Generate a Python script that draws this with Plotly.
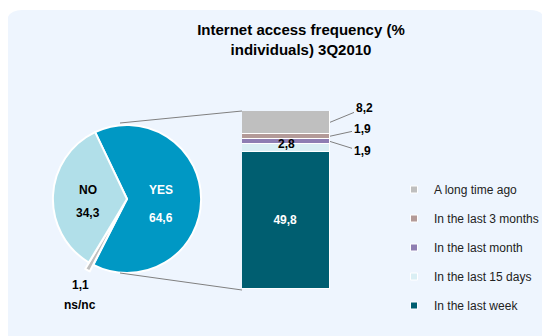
import plotly.graph_objects as go

# page body has an 8px margin: figure is drawn at (8,8) in the 550x336 window
OFF = 8
W, H = 550 - OFF, 336 - OFF

# ---- data ----
pie_labels = ["YES", "ns/nc", "NO"]
pie_values = [64.6, 1.1, 34.3]
pie_colors = ["#0098C4", "#BFBFBF", "#B1DFE9"]

bar_cats = ["In the last week", "In the last 15 days", "In the last month",
            "In the last 3 months", "A long time ago"]
bar_values = [49.8, 2.8, 1.9, 1.9, 8.2]
bar_colors = ["#005E70", "#DAEFF4", "#8E7EB2", "#B39A98", "#BFBFBF"]

title_text = "Internet access frequency (%<br>individuals) 3Q2010"

FONT = "Liberation Sans, Arial, sans-serif"


def px_x(x):
    return (x - OFF) / W


def px_y(y):
    return 1 - (y - OFF) / H


def fmt(v):
    return f"{v:.1f}".replace(".", ",")


fig = go.Figure()

# pie
fig.add_trace(go.Pie(
    labels=pie_labels, values=pie_values, sort=False, direction="clockwise",
    rotation=-25.5, pull=[0, 0.1, 0],
    marker=dict(colors=pie_colors, line=dict(color="white", width=2)),
    textinfo="none",
    showlegend=False, hoverinfo="skip",
    domain=dict(x=[px_x(45.5), px_x(208.5)], y=[px_y(280.5), px_y(117.5)]),
))

# stacked bar
for cat, val, col in zip(bar_cats, bar_values, bar_colors):
    fig.add_trace(go.Bar(
        x=[0], y=[val], name=cat, marker=dict(color=col, line=dict(color="white", width=1.5)),
        showlegend=False, hoverinfo="skip",
        text=["<b>%s</b>" % fmt(val)] if cat == "In the last week" else None,
        textposition="inside", insidetextanchor="middle",
        textfont=dict(family=FONT, size=12, color="white"),
    ))

# legend entries (square markers)
for cat, col in list(zip(bar_cats, bar_colors))[::-1]:
    fig.add_trace(go.Scatter(
        x=[None], y=[None], mode="markers", name=cat, legendgroup=cat,
        marker=dict(symbol="square", size=7, color=col, line=dict(color="white", width=1)),
    ))

# labels for the small bar segments
mids = []
c = 0
for v in bar_values:
    mids.append(c + v / 2)
    c += v
total = c

ann = []
ann.append(dict(x=0, y=mids[1], xref="x", yref="y", text="<b>%s</b>" % fmt(bar_values[1]),
                showarrow=False, yshift=4, font=dict(family=FONT, size=12, color="black")))
for idx, (ax, ay) in zip([4, 3, 2], [(34, -14), (32, -7), (32, 10)]):
    ann.append(dict(x=0.5, y=mids[idx], xref="x", yref="y", text="<b>%s</b>" % fmt(bar_values[idx]),
                    showarrow=True, arrowhead=0, arrowwidth=1, arrowcolor="#808080",
                    ax=ax, ay=ay, xanchor="center", yanchor="middle",
                    font=dict(family=FONT, size=12, color="black")))

# pie labels (name line and value line)
pie_label_pos = {"YES": (161, 188, 216, "white"), "NO": (88, 188, 211, "black"),
                 "ns/nc": (80, 303, 283, "black")}
for lab, val in zip(pie_labels, pie_values):
    x, y_name, y_val, col = pie_label_pos[lab]
    for txt, yy in ((lab, y_name), (fmt(val), y_val)):
        ann.append(dict(x=px_x(x), y=px_y(yy - 7), xref="paper", yref="paper", text="<b>%s</b>" % txt,
                        showarrow=False, xanchor="center", yanchor="top",
                        font=dict(family=FONT, size=12, color=col)))

shapes = [
    dict(type="path", xref="paper", yref="paper", layer="below",
         path=("M {l},{b} L {l},{t1} Q {l},{t} {l1},{t} L {r1},{t} Q {r},{t} {r},{t1} L {r},{b} Z").format(
             l=px_x(6), r=px_x(546), t=px_y(10), b=px_y(345), t1=px_y(26), l1=px_x(22), r1=px_x(530)),
         fillcolor="#EEF5FE", line=dict(width=0)),
    dict(type="line", xref="paper", yref="paper", x0=px_x(120), y0=px_y(123), x1=px_x(242), y1=px_y(111),
         line=dict(color="#808080", width=1)),
    dict(type="line", xref="paper", yref="paper", x0=px_x(120), y0=px_y(273), x1=px_x(242), y1=px_y(290),
         line=dict(color="#808080", width=1)),
]

fig.update_layout(
    width=W, height=H, margin=dict(l=0, r=0, t=0, b=0),
    paper_bgcolor="white", plot_bgcolor="rgba(0,0,0,0)",
    separators=", ",
    barmode="stack", bargap=0,
    title=dict(text="<b>%s</b>" % title_text, x=px_x(301), xanchor="center", y=px_y(35), yanchor="top",
               font=dict(family=FONT, size=15, color="black")),
    xaxis=dict(domain=[px_x(242), px_x(330)], range=[-0.5, 0.5], visible=False, fixedrange=True),
    yaxis=dict(domain=[px_y(289), px_y(111)], range=[0, total], visible=False, fixedrange=True),
    legend=dict(x=px_x(394), y=px_y(175), xanchor="left", yanchor="top",
                font=dict(family=FONT, size=12, color="#222222"),
                bgcolor="rgba(0,0,0,0)", tracegroupgap=10, traceorder="grouped", itemwidth=30),
    annotations=ann, shapes=shapes,
)

fig.write_html("out.html")
